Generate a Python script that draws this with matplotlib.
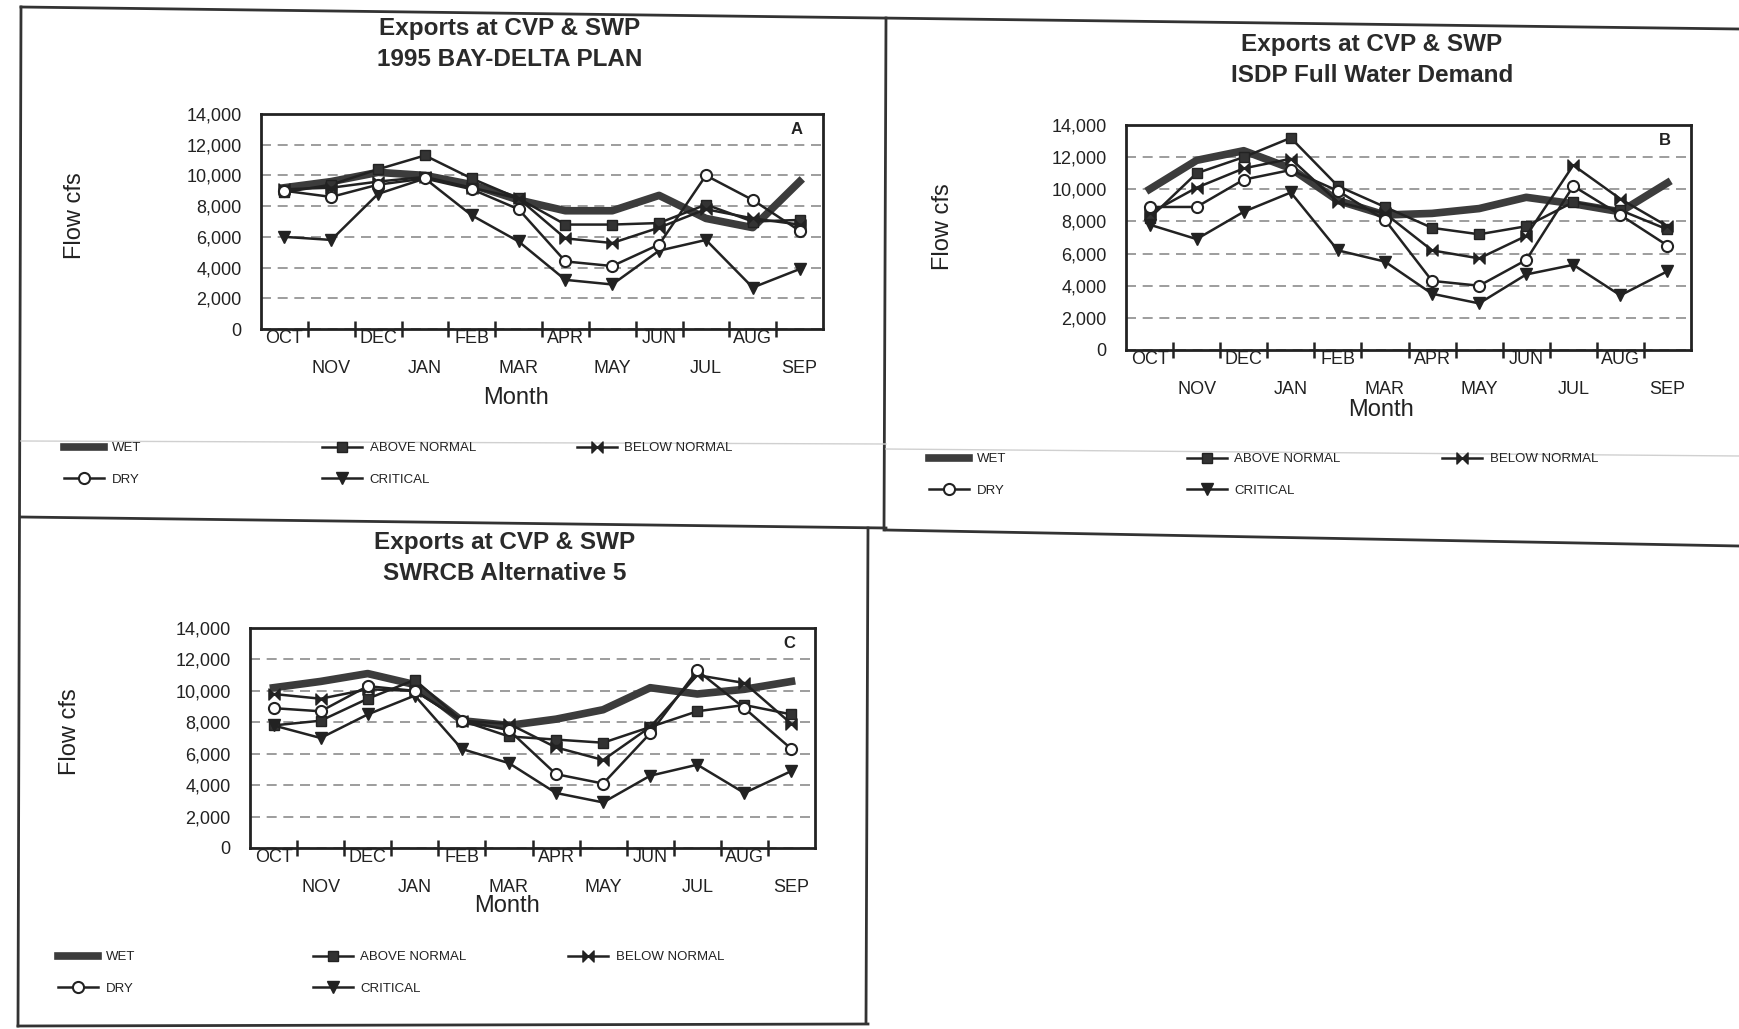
import matplotlib
matplotlib.use("Agg")
import matplotlib.pyplot as plt
from matplotlib.lines import Line2D
from matplotlib.path import Path

plt.rcParams["font.family"] = ["Liberation Sans", "DejaVu Sans"]

W, H = 1739, 1029
INK = "#222222"

months = ["OCT", "NOV", "DEC", "JAN", "FEB", "MAR",
          "APR", "MAY", "JUN", "JUL", "AUG", "SEP"]
y_ticks = [0, 2000, 4000, 6000, 8000, 10000, 12000, 14000]
series_names = ["WET", "ABOVE NORMAL", "BELOW NORMAL", "DRY", "CRITICAL"]

# --- A: 1995 Bay-Delta Plan (cfs) ---
a_wet = [9200, 9600, 10200, 10000, 9400, 8400, 7700, 7700, 8700, 7200, 6600, 9600]
a_above = [8900, 9400, 10400, 11300, 9800, 8500, 6800, 6800, 6900, 8100, 7000, 7100]
a_below = [9100, 9200, 9600, 9900, 9200, 8500, 5900, 5600, 6600, 7800, 7200, 6800]
a_dry = [9000, 8600, 9400, 9800, 9100, 7800, 4400, 4100, 5500, 10000, 8400, 6400]
a_crit = [6000, 5800, 8800, 9800, 7400, 5700, 3200, 2900, 5100, 5800, 2700, 3900]

# --- B: ISDP Full Water Demand ---
b_wet = [10000, 11800, 12400, 11300, 9300, 8400, 8500, 8800, 9500, 9100, 8600, 10400]
b_above = [8200, 11000, 12000, 13200, 10200, 8900, 7600, 7200, 7700, 9200, 8700, 7500]
b_below = [8500, 10100, 11300, 11900, 9200, 8500, 6200, 5700, 7100, 11500, 9400, 7700]
b_dry = [8900, 8900, 10600, 11200, 9900, 8100, 4300, 4000, 5600, 10200, 8400, 6500]
b_crit = [7800, 6900, 8600, 9800, 6200, 5500, 3500, 2900, 4700, 5300, 3400, 4900]

# --- C: SWRCB Alternative 5 ---
c_wet = [10200, 10600, 11100, 10400, 8100, 7800, 8200, 8800, 10200, 9800, 10100, 10600]
c_above = [7800, 8100, 9500, 10700, 8100, 7100, 6900, 6700, 7700, 8700, 9100, 8500]
c_below = [9800, 9500, 10100, 10000, 8100, 7900, 6400, 5600, 7700, 11000, 10500, 7900]
c_dry = [8900, 8700, 10300, 10000, 8100, 7500, 4700, 4100, 7300, 11300, 8900, 6300]
c_crit = [7800, 7000, 8500, 9700, 6300, 5400, 3500, 2900, 4600, 5300, 3500, 4900]

# bow-tie marker (two triangles meeting at the centre)
BOWTIE = Path([(-1, 1), (0, 0), (-1, -1), (-1, 1), (1, 1), (0, 0), (1, -1), (1, 1)],
              [Path.MOVETO, Path.LINETO, Path.LINETO, Path.CLOSEPOLY,
               Path.MOVETO, Path.LINETO, Path.LINETO, Path.CLOSEPOLY])

STYLE = {
    "WET": dict(color="#3c3c3c", lw=5.5, marker=None, zorder=2),
    "ABOVE NORMAL": dict(color=INK, lw=1.8, marker="s", ms=7, mfc="#333333", mec=INK, zorder=3),
    "BELOW NORMAL": dict(color=INK, lw=1.8, marker=BOWTIE, ms=8, mfc=INK, mec=INK, zorder=3),
    "DRY": dict(color=INK, lw=1.8, marker="o", ms=8, mfc="white", mec=INK, mew=1.5, zorder=4),
    "CRITICAL": dict(color=INK, lw=1.8, marker="v", ms=8, mfc=INK, mec=INK, zorder=3),
}


def fx(px):
    return px / W


def fy(py):
    return 1 - py / H


def draw_panel(fig, rect, values, title, letter, title_xy, ylab_xy, month_xy,
               leg_x, leg_y):
    l, t, r, b = rect
    ax = fig.add_axes([fx(l), fy(b), (r - l) / W, (b - t) / H])
    xs = list(range(len(months)))
    handles = {}
    for name, vals in zip(series_names, values):
        (ln,) = ax.plot(xs, vals, label=name, **STYLE[name])
        handles[name] = ln

    ax.set_xlim(-0.5, 11.5)
    ax.set_ylim(0, 14000)
    ax.set_yticks(y_ticks)
    ax.set_yticklabels([f"{v:,}" for v in y_ticks])
    ax.tick_params(axis="y", length=0, pad=14, labelsize=13, labelcolor=INK)
    ax.set_axisbelow(True)
    ax.yaxis.grid(True, linestyle=(0, (6, 4)), color="#8c8c8c", lw=1.2)

    # two staggered rows of month labels, ticks between months
    ax.set_xticks(xs[0::2])
    ax.set_xticklabels(months[0::2])
    ax.set_xticks([x + 0.5 for x in xs[:-1]], minor=True)
    ax.tick_params(axis="x", which="major", length=0, pad=1, labelsize=13,
                   labelcolor=INK)
    ax.tick_params(axis="x", which="minor", length=11, width=1.8,
                   direction="inout", color=INK)
    sec = ax.secondary_xaxis("bottom")
    sec.set_xticks(xs[1::2])
    sec.set_xticklabels(months[1::2])
    sec.tick_params(length=0, pad=22, labelsize=13, labelcolor=INK)
    sec.spines["bottom"].set_visible(False)

    for sp in ax.spines.values():
        sp.set_linewidth(2)
        sp.set_color(INK)

    ax.text(1 - 20 / (r - l), 1 - 8 / (b - t), letter, transform=ax.transAxes,
            ha="right", va="top", fontsize=12, fontweight="bold", color=INK)

    fig.text(fx(title_xy[0]), fy(title_xy[1]), title, ha="center", va="center",
             fontsize=17.5, fontweight="bold", color="#2a2a2a", linespacing=1.5)
    fig.text(fx(ylab_xy[0]), fy(ylab_xy[1]), "Flow cfs", rotation=90,
             ha="center", va="center", fontsize=17, color=INK)
    fig.text(fx(month_xy[0]), fy(month_xy[1]), "Month", ha="center",
             va="center", fontsize=17, color=INK)

    # legend: three columns placed like the original
    cols = [["WET", "DRY"], ["ABOVE NORMAL", "CRITICAL"], ["BELOW NORMAL"]]
    for cx, names in zip(leg_x, cols):
        fig.legend([handles[n] for n in names], names, loc="upper left",
                   bbox_to_anchor=(fx(cx), fy(leg_y - 9)), frameon=False,
                   fontsize=9.5, handlelength=3.0, handletextpad=0.6,
                   labelspacing=1.45, borderpad=0, borderaxespad=0,
                   labelcolor=INK)
    return ax


fig = plt.figure(figsize=(W / 100, H / 100), dpi=100)
fig.patch.set_facecolor("white")

draw_panel(fig, (261, 114, 823, 329),
           [a_wet, a_above, a_below, a_dry, a_crit],
           "Exports at CVP & SWP\n1995 BAY-DELTA PLAN", "A",
           (510, 44), (75, 216), (516, 398), (64, 322, 577), 451)
draw_panel(fig, (1126, 125, 1691, 350),
           [b_wet, b_above, b_below, b_dry, b_crit],
           "Exports at CVP & SWP\nISDP Full Water Demand", "B",
           (1372, 60), (943, 227), (1381, 410), (929, 1187, 1442), 462)
draw_panel(fig, (250, 628, 815, 848),
           [c_wet, c_above, c_below, c_dry, c_crit],
           "Exports at CVP & SWP\nSWRCB Alternative 5", "C",
           (505, 558), (70, 732), (507, 906), (58, 313, 568), 960)

# page frame of the scanned sheet
frame = [
    ((21, 7), (1739, 29), 2.0, "#333333"),
    ((21, 7), (18, 1026), 2.0, "#333333"),
    ((886, 18), (884, 530), 2.0, "#333333"),
    ((21, 517), (886, 528), 2.0, "#333333"),
    ((886, 530), (1739, 546), 2.0, "#333333"),
    ((868, 528), (866, 1022), 2.0, "#333333"),
    ((18, 1026), (868, 1024), 2.0, "#333333"),
    ((21, 441), (886, 444), 1.0, "#d0d0d0"),
    ((886, 449), (1739, 456), 1.0, "#d0d0d0"),
]
for (x0, y0), (x1, y1), lw, col in frame:
    fig.add_artist(Line2D([fx(x0), fx(x1)], [fy(y0), fy(y1)],
                          transform=fig.transFigure, lw=lw, color=col))

fig.savefig("out.png", dpi=100)
